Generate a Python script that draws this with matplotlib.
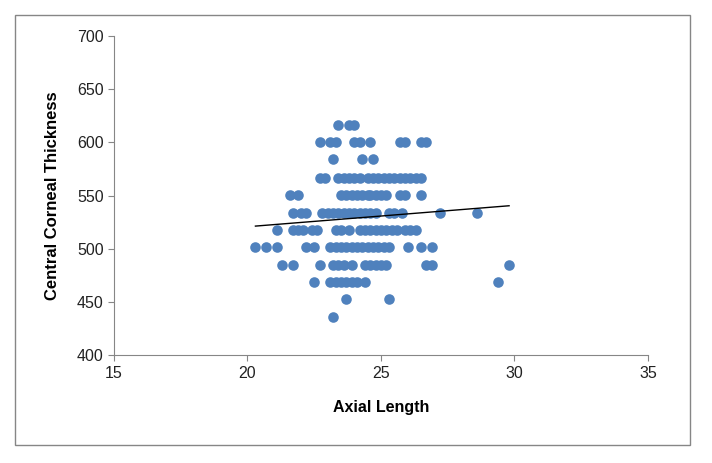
import matplotlib.pyplot as plt
from matplotlib.patches import Rectangle
import numpy as np

plt.rcParams['font.family'] = ['Liberation Sans', 'DejaVu Sans']

# rows of points: (central corneal thickness, axial lengths in that row)
rows = [
    (616, [23.4, 23.8, 24.0]),
    (600, [22.7, 23.1, 23.3, 24.0, 24.2, 24.6, 25.7, 25.9, 26.5, 26.7]),
    (584, [23.2, 24.3, 24.7]),
    (567, [22.7, 22.9, 23.4, 23.6, 23.8, 24.0, 24.2, 24.5, 24.7, 24.9, 25.1,
           25.3, 25.5, 25.7, 25.9, 26.1, 26.3, 26.5]),
    (551, [21.6, 21.9, 23.5, 23.7, 23.9, 24.1, 24.3, 24.5, 24.6, 24.8, 25.0,
           25.2, 25.7, 25.9, 26.5]),
    (534, [21.7, 22.0, 22.2, 22.8, 23.0, 23.2, 23.4, 23.6, 23.8, 24.0, 24.2,
           24.4, 24.6, 24.8, 25.3, 25.5, 25.8, 27.2, 28.6]),
    (518, [21.1, 21.7, 21.9, 22.1, 22.4, 22.6, 23.3, 23.5, 23.8, 24.2, 24.4,
           24.6, 24.8, 25.0, 25.2, 25.4, 25.6, 25.9, 26.1, 26.3]),
    (502, [20.3, 20.7, 21.1, 22.2, 22.5, 23.1, 23.3, 23.5, 23.7, 23.9, 24.1,
           24.3, 24.5, 24.7, 24.9, 25.1, 25.3, 26.0, 26.5, 26.9]),
    (485, [21.3, 21.7, 22.7, 23.2, 23.4, 23.6, 23.9, 24.4, 24.6, 24.8, 25.0,
           25.2, 26.7, 26.9, 29.8]),
    (469, [22.5, 23.1, 23.3, 23.5, 23.7, 23.9, 24.1, 24.4, 29.4]),
    (453, [23.7, 25.3]),
    (436, [23.2]),
]

axial = []
cct = []
for y, xs in rows:
    axial += xs
    cct += [y] * len(xs)
axial = np.array(axial)
cct = np.array(cct)

fig = plt.figure(figsize=(7.12, 4.63), dpi=100)
ax = fig.add_axes([0.160, 0.233, 0.750, 0.689])

ax.scatter(axial, cct, s=58, color='#4F81BD', zorder=2, linewidths=0)

slope, icpt = np.polyfit(axial, cct, 1)
xl = np.array([axial.min(), axial.max()])
ax.plot(xl, slope * xl + icpt, color='black', lw=1, zorder=3)

ax.set_xlim(15, 35)
ax.set_ylim(400, 700)
ax.set_xticks([15, 20, 25, 30, 35])
ax.set_yticks(range(400, 701, 50))
for s in ['top', 'right']:
    ax.spines[s].set_visible(False)
for s in ['left', 'bottom']:
    ax.spines[s].set_color('#868686')
ax.tick_params(colors='#868686', labelcolor='#222222', labelsize=11.5, length=4)
ax.set_xlabel('Axial Length', fontsize=11.5, fontweight='bold', labelpad=14)
ax.set_ylabel('Central Corneal Thickness', fontsize=12, fontweight='bold', labelpad=12)

fig.patches.append(Rectangle((15 / 712, 1 - 445 / 463), 675 / 712, 430 / 463,
                             transform=fig.transFigure, fill=False,
                             edgecolor='#868686', lw=1))

fig.savefig('out.png', dpi=100)
